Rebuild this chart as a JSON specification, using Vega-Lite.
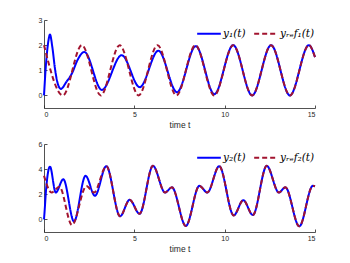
{
  "$schema": "https://vega.github.io/schema/vega-lite/v6.json",
  "background": "white",
  "padding": {"left": 38, "top": 16, "right": 0, "bottom": 0},
  "spacing": 11,
  "config": {
    "view": {"stroke": null},
    "axis": {
      "grid": false,
      "domainColor": "#262626",
      "domainWidth": 0.8,
      "tickColor": "#262626",
      "tickWidth": 0.8,
      "tickSize": -3,
      "labelColor": "#262626",
      "labelFont": "Liberation Sans",
      "labelFontSize": 7,
      "labelPadding": 5,
      "titleFont": "Liberation Sans",
      "titleFontSize": 8.5,
      "titleFontWeight": "normal",
      "titleColor": "#262626",
      "titlePadding": 3
    },
    "legend": {
      "orient": "none",
      "legendX": 152,
      "legendY": 0.5,
      "direction": "horizontal",
      "title": null,
      "padding": 0,
      "symbolType": "stroke",
      "symbolSize": 560,
      "symbolStrokeWidth": 2,
      "labelFont": "DejaVu Serif",
      "labelFontStyle": "italic",
      "labelFontSize": 10.5,
      "labelColor": "#000000",
      "labelOffset": 1,
      "columnPadding": 4
    }
  },
  "resolve": {"scale": {"color": "independent", "strokeDash": "independent"}, "legend": {"color": "independent", "strokeDash": "independent"}},
  "vconcat": [
    {
      "width": 271,
      "height": 88,
      "data": {"values": [
        {"k":"y","t":0,"v":0},{"k":"y","t":0.05,"v":0.6},{"k":"y","t":0.1,"v":1.15},{"k":"y","t":0.18,"v":1.8},{"k":"y","t":0.25,"v":2.2},{"k":"y","t":0.33,"v":2.42},{"k":"y","t":0.46,"v":1.93},{"k":"y","t":0.61,"v":1.05},{"k":"y","t":0.75,"v":0.5},{"k":"y","t":0.93,"v":0.26},{"k":"y","t":1.25,"v":0.55},{"k":"y","t":1.55,"v":0.88},{"k":"y","t":1.85,"v":1.4},{"k":"y","t":2.23,"v":1.73},{"k":"y","t":3.2,"v":0.22},{"k":"y","t":4.3,"v":1.6},{"k":"y","t":5.3,"v":0.33},{"k":"y","t":6.33,"v":1.78},{"k":"y","t":7.36,"v":0.13},{"k":"y","t":8.4,"v":1.96},{"k":"y","t":9.43,"v":0.05},{"k":"y","t":10.47,"v":2.0},{"k":"y","t":11.52,"v":0.0},{"k":"y","t":12.57,"v":2.0},{"k":"y","t":13.61,"v":0.0},{"k":"y","t":14.66,"v":2.0},{"k":"y","t":15,"v":1.525},
        {"k":"r","t":0,"v":2},{"k":"r","t":1.047,"v":0},{"k":"r","t":2.094,"v":2},{"k":"r","t":3.142,"v":0},{"k":"r","t":4.189,"v":2},{"k":"r","t":5.236,"v":0},{"k":"r","t":6.283,"v":2},{"k":"r","t":7.33,"v":0},{"k":"r","t":8.378,"v":2},{"k":"r","t":9.425,"v":0},{"k":"r","t":10.472,"v":2},{"k":"r","t":11.519,"v":0},{"k":"r","t":12.566,"v":2},{"k":"r","t":13.614,"v":0},{"k":"r","t":14.661,"v":2},{"k":"r","t":15,"v":1.525}
      ]},
      "encoding": {
        "x": {"field": "t", "type": "quantitative", "scale": {"domain": [0, 15], "nice": false}, "axis": {"values": [0, 5, 10, 15], "title": "time t"}},
        "y": {"field": "v", "type": "quantitative", "scale": {"domain": [-0.5, 3], "nice": false, "zero": false}, "axis": {"values": [0, 1, 2, 3], "title": null}},
        "color": {"field": "k", "type": "nominal", "scale": {"domain": ["y", "r"], "range": ["#0000ff", "#a2142f"]}, "legend": {"labelExpr": "datum.value === 'y' ? 'y₁(t)' : 'yᵣₑf₁(t)'"}},
        "strokeDash": {"field": "k", "type": "nominal", "scale": {"domain": ["y", "r"], "range": [[1, 0], [5, 3]]}, "legend": {"labelExpr": "datum.value === 'y' ? 'y₁(t)' : 'yᵣₑf₁(t)'"}}
      },
      "layer": [
        {"transform": [{"filter": "datum.k === 'y'"}], "mark": {"type": "line", "interpolate": "monotone", "strokeWidth": 2}},
        {"transform": [{"filter": "datum.k === 'r'"}], "mark": {"type": "line", "interpolate": "monotone", "strokeWidth": 2}}
      ]
    },
    {
      "width": 271,
      "height": 88,
      "data": {"values": [
        {"k":"y","t":0,"v":0},{"k":"y","t":0.05,"v":1.0},{"k":"y","t":0.1,"v":2.1},{"k":"y","t":0.18,"v":3.3},{"k":"y","t":0.25,"v":3.95},{"k":"y","t":0.33,"v":4.2},{"k":"y","t":0.65,"v":2.14},{"k":"y","t":1.07,"v":3.2},{"k":"y","t":1.66,"v":-0.16},{"k":"y","t":2.3,"v":3.47},{"k":"y","t":2.82,"v":1.88},{"k":"y","t":3.45,"v":4.24},{"k":"y","t":4.21,"v":0.25},{"k":"y","t":4.74,"v":1.56},{"k":"y","t":5.29,"v":0.45},{"k":"y","t":6.03,"v":4.26},{"k":"y","t":6.7,"v":2.14},{"k":"y","t":7.08,"v":2.55},{"k":"y","t":7.85,"v":-0.52},{"k":"y","t":8.6,"v":2.67},{"k":"y","t":9.04,"v":2.14},{"k":"y","t":9.7,"v":4.24},{"k":"y","t":10.5,"v":0.32},{"k":"y","t":11.03,"v":1.53},{"k":"y","t":11.56,"v":0.35},{"k":"y","t":12.33,"v":4.26},{"k":"y","t":13.0,"v":2.14},{"k":"y","t":13.36,"v":2.55},{"k":"y","t":14.13,"v":-0.55},{"k":"y","t":14.88,"v":2.67},{"k":"y","t":15,"v":2.64},
        {"k":"r","t":0,"v":3.47},{"k":"r","t":0.42,"v":2.14},{"k":"r","t":0.85,"v":2.6},{"k":"r","t":1.55,"v":-0.45},{"k":"r","t":2.35,"v":2.65},{"k":"r","t":2.77,"v":2.14},{"k":"r","t":3.45,"v":4.24},{"k":"r","t":4.21,"v":0.25},{"k":"r","t":4.74,"v":1.56},{"k":"r","t":5.29,"v":0.45},{"k":"r","t":6.03,"v":4.26},{"k":"r","t":6.7,"v":2.14},{"k":"r","t":7.08,"v":2.55},{"k":"r","t":7.85,"v":-0.52},{"k":"r","t":8.6,"v":2.67},{"k":"r","t":9.04,"v":2.14},{"k":"r","t":9.7,"v":4.24},{"k":"r","t":10.5,"v":0.32},{"k":"r","t":11.03,"v":1.53},{"k":"r","t":11.56,"v":0.35},{"k":"r","t":12.33,"v":4.26},{"k":"r","t":13.0,"v":2.14},{"k":"r","t":13.36,"v":2.55},{"k":"r","t":14.13,"v":-0.55},{"k":"r","t":14.88,"v":2.67},{"k":"r","t":15,"v":2.64}
      ]},
      "encoding": {
        "x": {"field": "t", "type": "quantitative", "scale": {"domain": [0, 15], "nice": false}, "axis": {"values": [0, 5, 10, 15], "title": "time t"}},
        "y": {"field": "v", "type": "quantitative", "scale": {"domain": [-1, 6], "nice": false, "zero": false}, "axis": {"values": [0, 2, 4, 6], "title": null}},
        "color": {"field": "k", "type": "nominal", "scale": {"domain": ["y", "r"], "range": ["#0000ff", "#a2142f"]}, "legend": {"labelExpr": "datum.value === 'y' ? 'y₂(t)' : 'yᵣₑf₂(t)'"}},
        "strokeDash": {"field": "k", "type": "nominal", "scale": {"domain": ["y", "r"], "range": [[1, 0], [5, 3]]}, "legend": {"labelExpr": "datum.value === 'y' ? 'y₂(t)' : 'yᵣₑf₂(t)'"}}
      },
      "layer": [
        {"transform": [{"filter": "datum.k === 'y'"}], "mark": {"type": "line", "interpolate": "monotone", "strokeWidth": 2}},
        {"transform": [{"filter": "datum.k === 'r'"}], "mark": {"type": "line", "interpolate": "monotone", "strokeWidth": 2}}
      ]
    }
  ]
}
